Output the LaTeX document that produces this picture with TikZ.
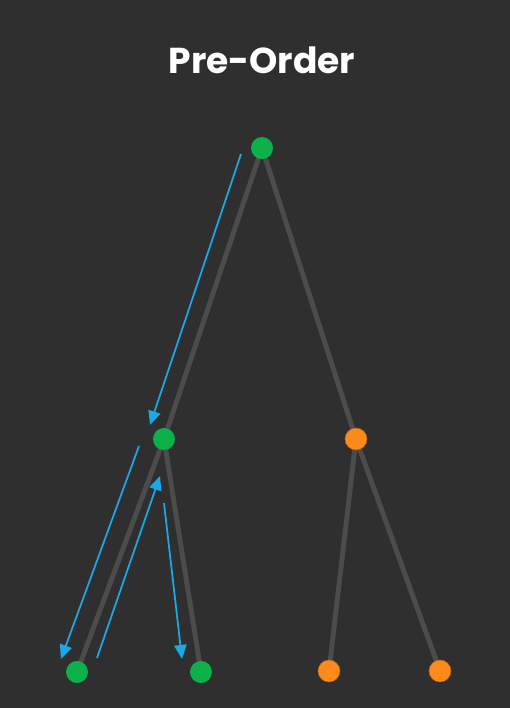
\documentclass[tikz,border=0pt]{standalone}
\usepackage{fontspec}
\setmainfont{Poppins}
\usetikzlibrary{arrows.meta}
\definecolor{bg}{HTML}{2F2F2F}
\definecolor{edgec}{HTML}{4C4C4C}
\definecolor{greenc}{HTML}{0DB14B}
\definecolor{orangec}{HTML}{FF8A1C}
\definecolor{bluec}{HTML}{1BA9E6}
\begin{document}
\begin{tikzpicture}[x=0.02cm,y=-0.02cm,
  vis/.style={circle,fill=greenc,minimum size=22*0.02cm,inner sep=0pt},
  unvis/.style={circle,fill=orangec,draw=orangec!70!black,line width=0.3pt,minimum size=22*0.02cm,inner sep=0pt},
  treeedge/.style={draw=edgec,line width=2.8pt},
  walk/.style={draw=bluec,line width=1pt,-{Triangle[length=8pt,width=7pt]}}]
\fill[bg] (0,0) rectangle (510,708);
\useasboundingbox (0,0) rectangle (510,708);
\node[font=\bfseries\fontsize{20.5}{24}\selectfont,text=white] (title) at (262,60) {Pre-Order};
% nodes positions
\coordinate (pa) at (262,148);
\coordinate (pb) at (164,439);
\coordinate (pc) at (356,439);
\coordinate (pd) at (77,672);
\coordinate (pe) at (201,672);
\coordinate (pf) at (329,671);
\coordinate (pg) at (440,671);
\draw[treeedge] (pa) -- (pb) (pa) -- (pc) (pb) -- (pd) (pb) -- (pe) (pc) -- (pf) (pc) -- (pg);
\node[vis] (a) at (pa) {};
\node[vis] (b) at (pb) {};
\node[unvis] (c) at (pc) {};
\node[vis] (d) at (pd) {};
\node[vis] (e) at (pe) {};
\node[unvis] (f) at (pf) {};
\node[unvis] (g) at (pg) {};
% walk arrows
\coordinate (w1s) at (241,154); \coordinate (w1e) at (150,425);
\coordinate (w2s) at (139,446); \coordinate (w2e) at (61,659);
\coordinate (w3s) at (97,658);  \coordinate (w3e) at (160,476);
\coordinate (w4s) at (164,503); \coordinate (w4e) at (182,659);
\draw[walk] (w1s) -- (w1e);
\draw[walk] (w2s) -- (w2e);
\draw[walk] (w3s) -- (w3e);
\draw[walk] (w4s) -- (w4e);
\end{tikzpicture}
\end{document}
